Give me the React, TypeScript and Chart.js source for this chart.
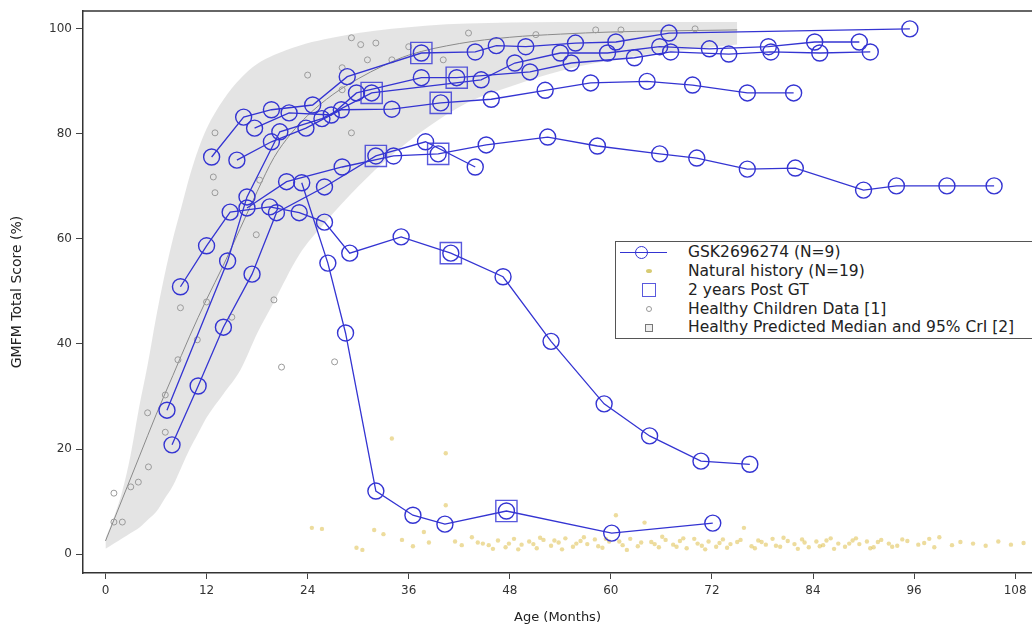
import React, { useEffect, useRef } from "react";
import { Chart, registerables } from "chart.js";

Chart.register(...registerables);

const X_MIN = -2.67;
const X_MAX = 110;
const Y_MIN = -3.6;
const Y_MAX = 103.4;
const xTickValues = [0, 12, 24, 36, 48, 60, 72, 84, 96, 108];
const yTickValues = [0, 20, 40, 60, 80, 100];

// GSK2696274 patients (age in months, GMFM total score %)
const p1Age = [12.6, 16.4, 19.7, 24.6, 28.7, 37.5, 43.9, 46.4, 49.9, 55.8, 60.6, 66.9, 95.5];
const p1Score = [75.6, 83.2, 84.6, 85.5, 90.9, 95.4, 95.6, 96.8, 96.6, 97.3, 97.5, 99.2, 100];
const p2Age = [7.3, 14.5, 16.8, 20.7, 25.7, 31.6, 44.6, 48.6, 54.0, 59.6, 65.8, 71.7, 78.7, 84.2, 89.5];
const p2Score = [27.4, 55.8, 68.0, 80.4, 82.9, 87.8, 90.3, 93.5, 95.4, 95.4, 96.6, 96.2, 96.6, 97.5, 97.5];
const p3Age = [17.7, 21.8, 26.8, 29.8, 37.5, 41.7, 50.4, 55.3, 62.8, 67.1, 74.0, 79.0, 84.8, 90.8];
const p3Score = [81.1, 84.0, 83.6, 87.8, 90.7, 90.7, 91.8, 93.5, 94.5, 95.6, 95.2, 95.6, 95.4, 95.6];
const p4Age = [15.6, 19.7, 23.8, 28.0, 34.0, 39.8, 45.8, 52.2, 57.6, 64.3, 69.7, 76.2, 81.7];
const p4Score = [75.0, 78.5, 81.1, 84.6, 84.7, 85.9, 86.6, 88.3, 89.7, 90.0, 89.3, 87.8, 87.8];
const p5Age = [7.9, 11.0, 14.0, 17.4, 20.3, 26.0, 32.1, 38.0, 43.9];
const p5Score = [20.8, 32.0, 43.2, 53.3, 65.0, 69.9, 75.8, 78.5, 73.7];
const p6Age = [16.8, 21.5, 28.1, 34.2, 39.5, 45.2, 52.5, 58.4, 65.8, 70.2, 76.2, 81.9, 90.0, 93.9, 99.9, 105.5];
const p6Score = [65.9, 70.9, 73.7, 75.8, 76.2, 77.9, 79.4, 77.7, 76.2, 75.4, 73.3, 73.5, 69.3, 70.1, 70.1, 70.1];
const p7Age = [8.9, 12.0, 14.8, 19.5, 23.0, 26.0, 29.0, 35.1, 41.0, 47.2, 52.9, 59.2, 64.6, 70.7, 76.5];
const p7Score = [50.9, 58.7, 65.1, 66.1, 65.0, 63.2, 57.3, 60.4, 57.3, 52.8, 40.5, 28.6, 22.5, 17.7, 17.1];
const p8Age = [23.3, 26.4, 28.5, 32.1, 36.5, 40.3, 47.6, 60.1, 72.1];
const p8Score = [70.7, 55.4, 42.1, 12.0, 7.4, 5.7, 8.2, 4.0, 5.9];

const patientAges = [p1Age, p2Age, p3Age, p4Age, p5Age, p6Age, p7Age, p8Age];
const patientScores = [p1Score, p2Score, p3Score, p4Score, p5Score, p6Score, p7Score, p8Score];

// 2 years post gene therapy
const postGtAge = [31.6, 32.1, 37.5, 39.5, 39.8, 41.0, 41.7, 47.6];
const postGtScore = [87.8, 75.8, 95.4, 76.2, 85.9, 57.3, 90.7, 8.2];

// Healthy children data [1]
const healthyAge = [1.0, 1.0, 2.0, 3.0, 3.9, 5.1, 5.0, 7.1, 7.1, 8.6, 8.9, 10.9, 12.0, 15.0, 20.0, 20.9, 27.2, 17.9, 13.0, 12.8, 13.0, 18.3, 24.0, 28.1, 28.1, 29.2, 29.2, 30.3, 32.1, 31.1, 34.0, 36.0, 40.1, 43.1, 51.1, 58.2, 61.2, 70.0];
const healthyScore = [11.6, 6.1, 6.1, 12.8, 13.7, 16.6, 26.9, 23.2, 30.3, 37.0, 46.9, 40.8, 48.0, 45.1, 48.4, 35.6, 36.6, 60.8, 68.8, 71.8, 80.2, 71.2, 91.2, 92.6, 88.4, 80.2, 98.3, 97.0, 97.3, 94.1, 94.1, 96.6, 94.1, 99.2, 98.9, 99.8, 99.8, 100];

// Healthy predicted median and 95% CrI [2]
const medianAge = [0, 2, 4, 6, 8, 10, 12, 14, 16, 18, 20, 22, 24, 27, 30, 33, 36, 42, 48, 54, 60, 66, 75];
const medianScore = [2.5, 10.5, 18.5, 26.5, 34, 41.5, 48.5, 55, 62, 69, 75.5, 80, 83.5, 87.5, 90.5, 93, 95, 97.2, 98.4, 99, 99.4, 99.6, 99.8];
const bandAge = [0, 1, 2, 3, 4, 5, 6, 7, 8, 9, 10, 11, 12, 14, 16, 18, 20, 23, 26, 30, 34, 38, 43, 48, 54, 60, 66, 72, 75];
const bandLower = [1, 2, 3, 4, 5, 6.5, 8, 10.5, 13, 16.5, 20, 23, 26, 30.5, 35, 42, 48, 57, 63, 70, 76, 81, 86, 89, 92, 94, 95.5, 96.5, 97];
const bandUpper = [3, 7, 12, 19, 28, 36, 45, 53, 60, 66, 72, 77, 81, 86.5, 90.5, 93.3, 95, 96.8, 98, 99.2, 100, 100.6, 101, 101.2, 101.3, 101.3, 101.3, 101.3, 101.3];

// Natural history (N=19)
const nhAge = [24.5, 25.7, 29.8, 30.5, 31.9, 33.0, 34.0, 35.2, 36.5, 37.8, 38.4, 40.4, 40.4, 41.5, 42.3, 43.5, 44.8, 45.5, 46.6, 47.5, 48.5, 49.4, 50.3, 51.2, 52.0, 52.9, 53.8, 54.6, 55.5, 56.4, 57.2, 58.1, 59.0, 59.8, 60.6, 61.4, 62.3, 63.2, 64.0, 64.8, 65.7, 66.5, 67.4, 68.2, 69.0, 69.9, 70.8, 71.6, 72.5, 73.3, 74.2, 75.0, 75.8, 76.7, 77.5, 78.4, 79.2, 80.1, 81.0, 81.8, 82.7, 83.5, 84.4, 85.2, 86.1, 87.0, 87.8, 88.7, 89.5, 90.4, 91.2, 92.1, 93.0, 94.0, 95.2, 96.5, 97.8, 99.0, 100.5, 101.5, 103.0, 104.5, 106.0, 107.5, 109.0];
const nhScore = [5.0, 4.8, 1.2, 0.8, 4.6, 3.8, 22.0, 2.7, 1.5, 4.2, 2.2, 19.2, 9.3, 2.4, 1.7, 3.2, 2.0, 1.7, 2.6, 1.3, 2.9, 1.8, 2.4, 1.1, 2.7, 1.6, 2.2, 3.0, 1.4, 2.5, 1.9, 2.8, 1.2, 2.4, 7.4, 1.7, 2.9, 1.5, 6.0, 2.3, 1.3, 2.7, 1.8, 2.5, 1.1, 2.9, 1.6, 2.4, 1.4, 2.8, 1.9, 2.3, 5.0, 1.5, 2.6, 1.8, 2.9, 1.4, 2.5, 1.9, 2.8, 1.3, 2.4, 1.7, 3.0, 2.0, 1.4, 2.6, 1.9, 2.4, 1.3, 2.7, 2.0, 1.6, 2.5, 1.8, 2.9, 3.2, 1.7, 2.3, 2.0, 1.6, 2.4, 1.8, 2.1];
const nh2Age = [44.2, 46.0, 47.9, 49.0, 50.8, 51.6, 53.3, 54.2, 55.9, 56.8, 58.5, 59.4, 61.0, 61.9, 63.6, 65.2, 66.1, 67.8, 68.6, 70.3, 71.2, 72.9, 73.8, 75.4, 77.1, 77.9, 79.6, 80.5, 82.2, 83.0, 84.8, 85.6, 86.5, 88.3, 89.1, 90.8, 91.7, 93.4, 94.6, 97.2, 98.4];
const nh2Score = [2.2, 1.0, 2.0, 0.9, 1.9, 3.1, 2.6, 0.9, 2.0, 3.2, 1.5, 2.9, 2.4, 0.8, 2.2, 1.9, 3.3, 1.4, 3.0, 2.0, 0.9, 2.1, 1.2, 2.7, 1.1, 2.3, 1.6, 3.1, 1.0, 2.2, 1.5, 2.6, 1.0, 2.0, 3.0, 1.1, 2.3, 1.4, 2.8, 2.1, 1.3];

const BLUE = "#3434d2";
const FONT = "'DejaVu Sans', Verdana, sans-serif";

const pts = (xs: number[], ys: number[]) => xs.map((x, i) => ({ x, y: ys[i] }));

const framePlugin = {
  id: "frameTop",
  afterDraw(chart: any) {
    const { ctx, chartArea } = chart;
    ctx.save();
    ctx.strokeStyle = "#333";
    ctx.lineWidth = 1.5;
    ctx.beginPath();
    ctx.moveTo(chartArea.left, chartArea.top);
    ctx.lineTo(chartArea.right, chartArea.top);
    ctx.stroke();
    ctx.restore();
  },
};

export default function App() {
  const ref = useRef<HTMLCanvasElement | null>(null);

  useEffect(() => {
    document.body.style.margin = "0";
    const canvas = ref.current;
    if (!canvas) return;

    const patientSets = patientAges.map((ages, i) => ({
      label: "GSK2696274 (N=9)",
      data: pts(ages, patientScores[i]),
      showLine: true,
      borderColor: BLUE,
      borderWidth: 1.3,
      pointRadius: 8,
      pointBorderWidth: 1.4,
      pointBorderColor: BLUE,
      pointBackgroundColor: "rgba(0,0,0,0)",
      pointStyle: "circle",
      tension: 0,
      fill: false,
      order: 2,
    }));

    const nhStyle = {
      showLine: false,
      pointRadius: 2.2,
      pointBorderWidth: 0,
      pointBackgroundColor: "rgba(220,185,60,0.5)",
      pointBorderColor: "rgba(220,185,60,0.5)",
      order: 7,
    };

    const chart = new Chart(canvas, {
      type: "scatter",
      data: {
        datasets: [
          {
            label: "band lower",
            data: pts(bandAge, bandLower),
            showLine: true,
            borderWidth: 0,
            borderColor: "rgba(0,0,0,0)",
            pointRadius: 0,
            fill: false,
            cubicInterpolationMode: "monotone",
            order: 10,
          },
          {
            label: "Healthy Predicted Median and 95% CrI [2]",
            data: pts(bandAge, bandUpper),
            showLine: true,
            borderWidth: 0,
            borderColor: "rgba(0,0,0,0)",
            backgroundColor: "rgba(210,210,210,0.6)",
            pointRadius: 0,
            fill: "-1",
            cubicInterpolationMode: "monotone",
            order: 10,
          },
          {
            label: "median",
            data: pts(medianAge, medianScore),
            showLine: true,
            borderWidth: 1,
            borderColor: "#8a8a8a",
            pointRadius: 0,
            fill: false,
            cubicInterpolationMode: "monotone",
            order: 9,
          },
          {
            label: "Healthy Children Data [1]",
            data: pts(healthyAge, healthyScore),
            showLine: false,
            pointRadius: 3,
            pointBorderWidth: 1,
            pointBorderColor: "#9a9a9a",
            pointBackgroundColor: "rgba(0,0,0,0)",
            order: 8,
          },
          { label: "Natural history (N=19)", data: pts(nhAge, nhScore), ...nhStyle },
          { label: "Natural history (N=19) b", data: pts(nh2Age, nh2Score), ...nhStyle },
          ...patientSets,
          {
            label: "2 years Post GT",
            data: pts(postGtAge, postGtScore),
            showLine: false,
            pointStyle: "rect",
            pointRadius: 15,
            pointBorderWidth: 1.4,
            pointBorderColor: "rgba(60,60,215,0.85)",
            pointBackgroundColor: "rgba(0,0,0,0)",
            order: 1,
          },
        ] as any,
      },
      options: {
        responsive: false,
        animation: false,
        devicePixelRatio: 1,
        layout: { autoPadding: false, padding: { top: 11, left: 0, right: 0, bottom: 0 } },
        plugins: {
          legend: { display: false },
          tooltip: { enabled: false },
        },
        scales: {
          x: {
            type: "linear",
            min: X_MIN,
            max: X_MAX,
            afterBuildTicks: (axis: any) => {
              axis.ticks = xTickValues.map((v) => ({ value: v }));
            },
            afterFit: (s: any) => {
              s.height = 57;
              s.paddingLeft = 0;
              s.paddingRight = 0;
            },
            grid: {
              display: true,
              drawOnChartArea: false,
              drawTicks: true,
              tickLength: 6,
              color: "#444",
              lineWidth: 1,
            },
            border: { display: true, color: "#333", width: 1.5 },
            ticks: {
              color: "#333",
              font: { family: FONT, size: 12 },
              padding: 5,
              maxRotation: 0,
              autoSkip: false,
            },
            title: {
              display: true,
              text: "Age (Months)",
              color: "#222",
              font: { family: FONT, size: 13 },
              padding: { top: 0, bottom: 5 },
            },
          },
          y: {
            type: "linear",
            min: Y_MIN,
            max: Y_MAX,
            afterBuildTicks: (axis: any) => {
              axis.ticks = yTickValues.map((v) => ({ value: v }));
            },
            afterFit: (s: any) => {
              s.width = 83;
              s.paddingTop = 0;
              s.paddingBottom = 0;
            },
            grid: {
              display: true,
              drawOnChartArea: false,
              drawTicks: true,
              tickLength: 7,
              color: "#444",
              lineWidth: 1,
            },
            border: { display: true, color: "#333", width: 1.5 },
            ticks: {
              color: "#333",
              font: { family: FONT, size: 12 },
              padding: 4,
              autoSkip: false,
            },
            title: {
              display: true,
              text: "GMFM Total Score (%)",
              color: "#222",
              font: { family: FONT, size: 14 },
              padding: { top: 9, bottom: 0 },
            },
          },
        },
      } as any,
      plugins: [framePlugin],
    });

    return () => chart.destroy();
  }, []);

  const rowText: React.CSSProperties = {
    position: "absolute",
    left: 72,
    fontFamily: FONT,
    fontSize: 15.5,
    lineHeight: "18px",
    color: "#222",
    whiteSpace: "nowrap",
  };

  return (
    <div style={{ position: "absolute", left: 0, top: 0, width: 1032, height: 630, overflow: "hidden", background: "#fff" }}>
      <canvas ref={ref} width={1032} height={630} style={{ display: "block", width: 1032, height: 630 }} />
      <div
        style={{
          position: "absolute",
          left: 615,
          top: 241,
          width: 440,
          height: 98,
          border: "1px solid #555",
          background: "#fff",
          boxSizing: "border-box",
        }}
      >
        <div style={{ position: "absolute", left: 4, top: 10, width: 47, height: 0, borderTop: `1.3px solid ${BLUE}` }} />
        <div style={{ position: "absolute", left: 19, top: 4, width: 13, height: 13, borderRadius: "50%", border: `1.4px solid ${BLUE}`, boxSizing: "border-box" }} />
        <div style={{ ...rowText, top: 1 }}>GSK2696274 (N=9)</div>
        <div style={{ position: "absolute", left: 30, top: 27, width: 6, height: 4, borderRadius: "50%", background: "rgba(205,190,80,0.8)" }} />
        <div style={{ ...rowText, top: 20 }}>Natural history (N=19)</div>
        <div style={{ position: "absolute", left: 26, top: 41, width: 14, height: 14, border: "1.5px solid rgba(60,60,215,0.85)", boxSizing: "border-box" }} />
        <div style={{ ...rowText, top: 39 }}>2 years Post GT</div>
        <div style={{ position: "absolute", left: 30, top: 64, width: 6, height: 6, borderRadius: "50%", border: "1px solid #999", boxSizing: "border-box" }} />
        <div style={{ ...rowText, top: 58 }}>Healthy Children Data [1]</div>
        <div style={{ position: "absolute", left: 29, top: 82, width: 8, height: 8, border: "1px solid #777", background: "#eee", boxSizing: "border-box" }} />
        <div style={{ ...rowText, top: 76 }}>Healthy Predicted Median and 95% CrI [2]</div>
      </div>
    </div>
  );
}
